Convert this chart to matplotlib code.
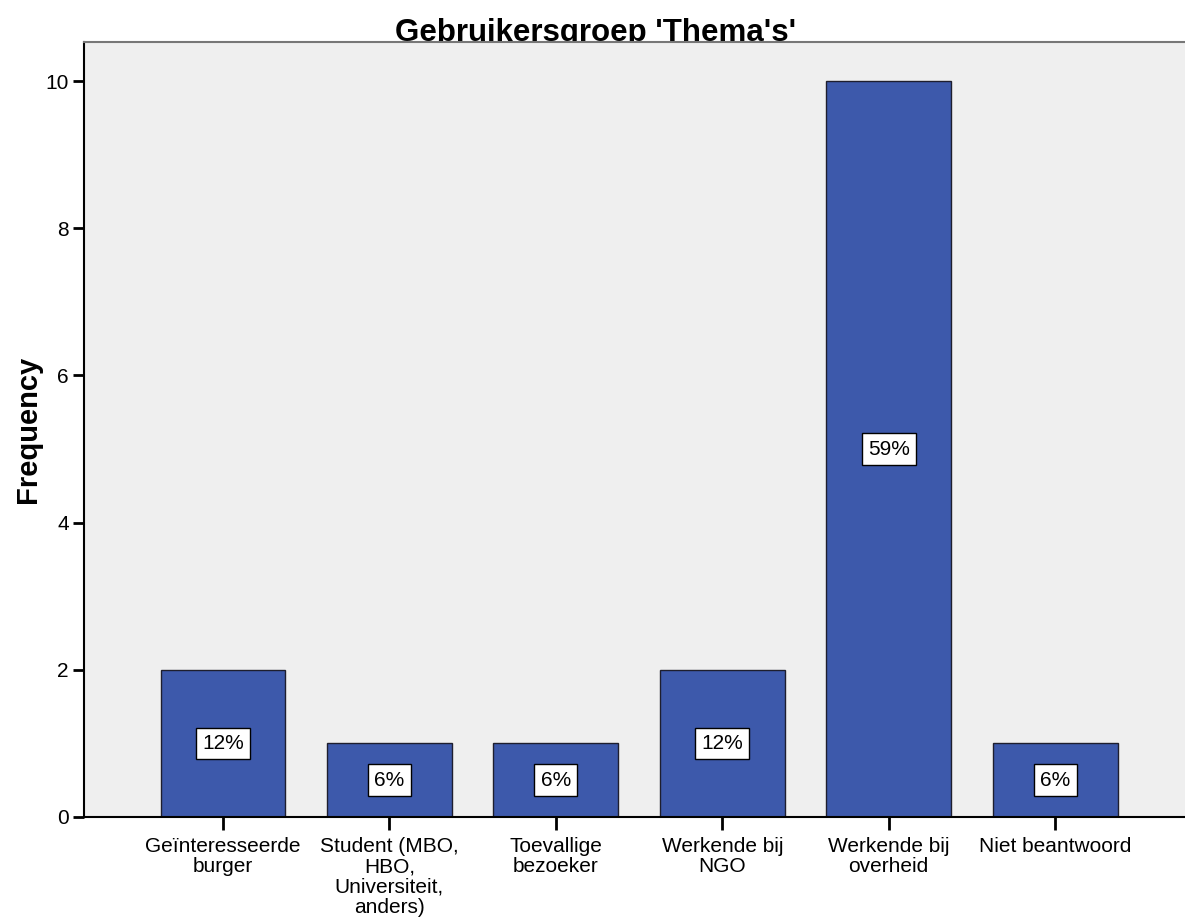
import matplotlib
matplotlib.use("Agg")
import matplotlib.pyplot as plt

categories = ["Geïnteresseerde\nburger", "Student (MBO,\nHBO,\nUniversiteit,\nanders)",
              "Toevallige\nbezoeker", "Werkende bij\nNGO", "Werkende bij\noverheid", "Niet beantwoord"]
frequencies = [2, 1, 1, 2, 10, 1]
percent_labels = ["12%", "6%", "6%", "12%", "59%", "6%"]
yticks = [0, 2, 4, 6, 8, 10]

plt.rcParams['font.family'] = ['Liberation Sans', 'DejaVu Sans']

fig = plt.figure(figsize=(11.85, 9.18), dpi=100)
ax = fig.add_axes([84/1185, 101/918, 1 - 84/1185, (817-42)/918])
ax.set_facecolor('#EFEFEF')

x = list(range(len(categories)))
ax.bar(x, frequencies, width=0.75, color='#3D59AB', edgecolor='#1E1E2E', linewidth=1.0, zorder=2)

for xi, f, lab in zip(x, frequencies, percent_labels):
    ax.text(xi, f / 2, lab, ha='center', va='center', fontsize=15, zorder=4,
            bbox=dict(boxstyle='square,pad=0.3', facecolor='white', edgecolor='black', linewidth=1))

ax.set_xlim(-0.835, 5.78)
ax.set_ylim(0, 10.53)
ax.set_yticks(yticks)
ax.set_xticks(x)
ax.set_xticklabels(categories, fontsize=15, linespacing=1.09)
ax.tick_params(axis='y', labelsize=15, length=8, width=2, direction='out', pad=3)
ax.tick_params(axis='x', length=9.5, width=2, direction='out', pad=5)

ax.spines['right'].set_visible(False)
ax.spines['top'].set_color('#777777')
ax.spines['top'].set_linewidth(1.5)
ax.spines['left'].set_color('black')
ax.spines['left'].set_linewidth(1.5)
ax.spines['bottom'].set_color('black')
ax.spines['bottom'].set_linewidth(1.5)

ax.set_ylabel('Frequency', fontsize=21, fontweight='bold')
ax.yaxis.set_label_coords(-(84 - 42) / (1185 - 84), 0.5)

fig.text(596/1185, 1 - 41/918, "Gebruikersgroep 'Thema's'", ha='center', va='baseline',
         fontsize=22.5, fontweight='bold', zorder=-1)

fig.savefig('out.png', dpi=100, facecolor='white')
